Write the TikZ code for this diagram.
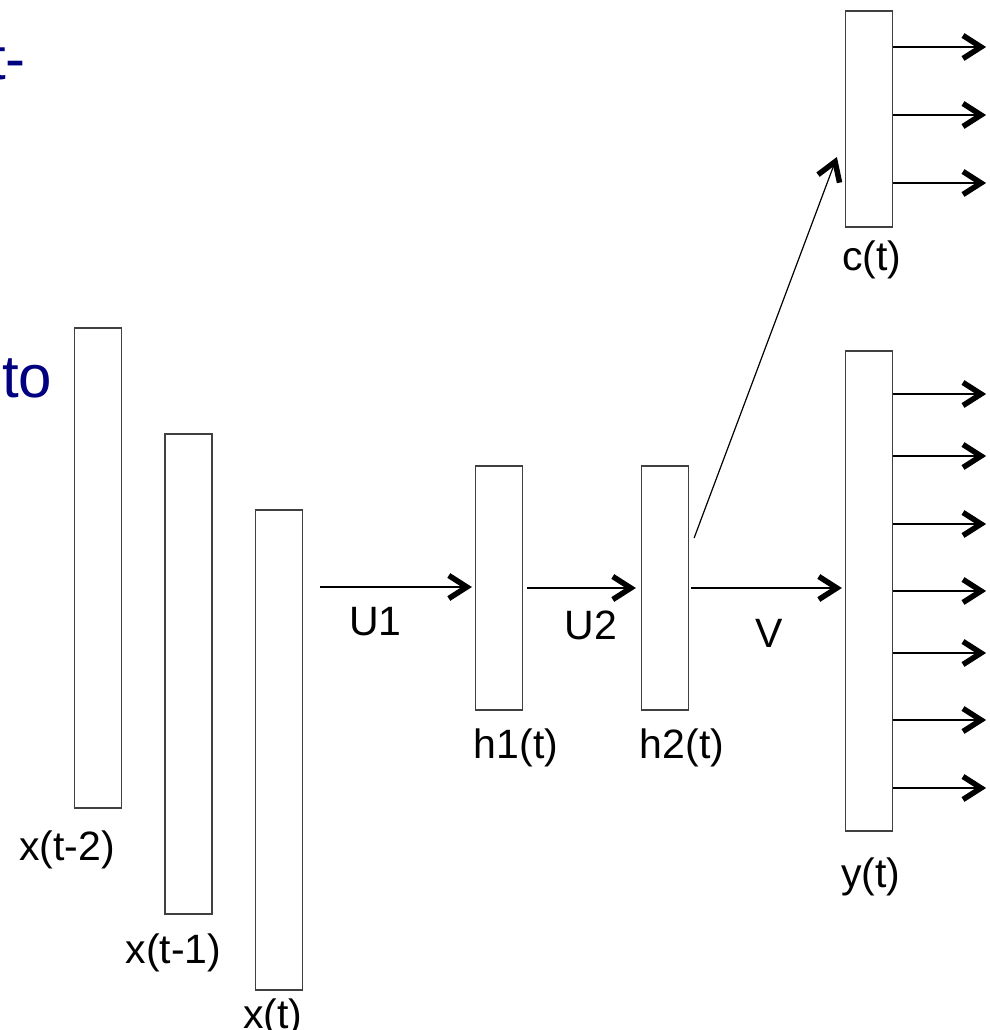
\documentclass[tikz,border=0pt]{standalone}
\usepackage{fontspec}
\setmainfont{Liberation Sans}
\usetikzlibrary{arrows.meta,positioning}
\definecolor{slideblue}{RGB}{0,0,128}

\begin{document}
\begin{tikzpicture}[
  x=1pt, y=-1pt,
  box/.style={draw=black!75, line width=1.2pt, inner sep=0pt, minimum width=47pt},
  lab/.style={inner sep=0pt, font=\fontsize{41}{45}\selectfont},
  arr/.style={line width=1.2pt, -{Straight Barb[line width=5.5pt 0,length=18pt,width=23pt]}},
  slide/.style={inner sep=0pt, anchor=base west, text=slideblue, font=\fontsize{60}{66}\selectfont}
]
\useasboundingbox (0,0) rectangle (989,1030);
\clip (0,0) rectangle (989,1030);
% slide text cut off at the left edge
\node[slide] (tline) at (-11,80) {t-};
\node[slide] (toline) at (2,397) {to};
% input windows
\node[box, minimum height=480pt] (xa) at (98,568) {};
\node[box, minimum height=480pt] (xb) at (188.5,674) {};
\node[box, minimum height=480pt] (xc) at (279,750) {};
% hidden layers
\node[box, minimum height=244pt] (h1) at (499,588) {};
\node[box, minimum height=244pt] (h2) at (665,588) {};
% outputs
\node[box, minimum height=216pt] (c) at (869,119) {};
\node[box, minimum height=480pt] (y) at (869,591) {};
% labels
\node[lab, below=22pt of xa, xshift=-31pt] (lxa) {x(t-2)};
\node[lab, below=19pt of xb, xshift=-15pt] (lxb) {x(t-1)};
\node[lab, below=8pt of xc, xshift=-6pt] (lxc) {x(t)};
\node[lab, below=18pt of h1, xshift=17pt] (lh1) {h1(t)};
\node[lab, below=18pt of h2, xshift=17pt] (lh2) {h2(t)};
\node[lab, below=13pt of c, xshift=3pt] (lc) {c(t)};
\node[lab, below=26pt of y, xshift=2pt] (ly) {y(t)};
% connections
\coordinate (u1) at (320,587);
\draw[arr, shorten >=3pt] (u1) -- (u1 -| h1.west)
  node[lab, midway, below=20pt, xshift=-22pt] (lu1) {U1};
\draw[arr, shorten <=4pt, shorten >=5pt] (h1) -- (h2)
  node[lab, midway, below=22pt, xshift=9pt] (lu2) {U2};
\draw[arr, shorten <=2pt, shorten >=3pt] (h2.east) -- (h2.east -| y.west)
  node[lab, midway, below=31pt, xshift=2pt] (lv) {V};
\draw[arr] ([shift={(5pt,50pt)}]h2.east) -- ([shift={(-8pt,-38pt)}]c.west);
\foreach \yy in {47,115,183}
  \draw[arr] (c.east |- 0,\yy) -- ++(93,0);
\foreach \yy in {394,456,524,591,653,720,788}
  \draw[arr] (y.east |- 0,\yy) -- ++(93,0);
\end{tikzpicture}
\end{document}
